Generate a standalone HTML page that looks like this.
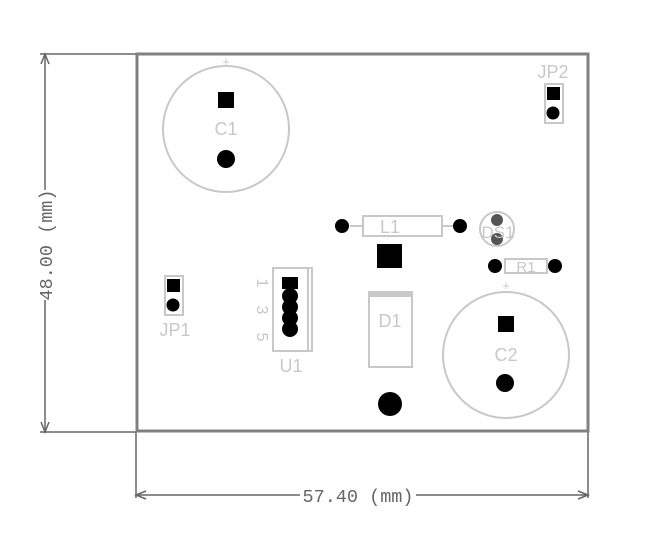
<!DOCTYPE html>
<html><head><style>html,body{margin:0;padding:0;background:#fff}svg{display:block}</style></head>
<body>
<svg width="656" height="552" viewBox="0 0 656 552" xmlns="http://www.w3.org/2000/svg" font-family="Liberation Sans, sans-serif">
<rect width="656" height="552" fill="#fff"/>
<g stroke="#666" stroke-width="1.5" fill="none">
<line x1="40" y1="54" x2="136" y2="54"/>
<line x1="40" y1="432" x2="136" y2="432"/>
<line x1="45" y1="54" x2="45" y2="190"/>
<line x1="45" y1="300" x2="45" y2="432"/>
<polyline points="41,64 45,54 49,64"/>
<polyline points="41,422 45,432 49,422"/>
<line x1="136" y1="432" x2="136" y2="498"/>
<line x1="588" y1="432" x2="588" y2="498"/>
<line x1="136" y1="495" x2="300" y2="495"/>
<line x1="416" y1="495" x2="588" y2="495"/>
<polyline points="146,491 136,495 146,499"/>
<polyline points="578,491 588,495 578,499"/>
</g>
<text x="358" y="502" font-family="Liberation Mono, monospace" font-size="18.5" fill="#666" text-anchor="middle">57.40 (mm)</text>
<text transform="translate(52,245) rotate(-90)" font-family="Liberation Mono, monospace" font-size="18.5" fill="#666" text-anchor="middle">48.00 (mm)</text>
<rect x="137" y="54" width="451" height="377" fill="none" stroke="#808080" stroke-width="3"/>
<g stroke="#c8c8c8" stroke-width="2" fill="none">
<circle cx="226" cy="129" r="63"/>
<circle cx="506" cy="355" r="63"/>
<rect x="545" y="84" width="18" height="39"/>
<rect x="165" y="276" width="18" height="39"/>
<rect x="273" y="268" width="39" height="83"/>
<line x1="308" y1="268" x2="308" y2="351"/>
<rect x="363" y="216" width="79" height="20"/>
<line x1="350" y1="226" x2="363" y2="226"/>
<line x1="442" y1="226" x2="453" y2="226"/>
<rect x="369" y="292" width="43" height="75"/>
<circle cx="497" cy="229" r="17"/>
<rect x="505" y="259" width="42" height="14"/>
</g>
<rect x="369" y="291" width="43" height="6" fill="#c8c8c8"/>
<g fill="#c8c8c8" font-size="18">
<text x="226" y="135" text-anchor="middle">C1</text>
<text x="506" y="361" text-anchor="middle">C2</text>
<text x="553" y="78" text-anchor="middle">JP2</text>
<text x="175" y="336" text-anchor="middle">JP1</text>
<text x="291" y="372" text-anchor="middle">U1</text>
<text x="390" y="327" text-anchor="middle">D1</text>
<text x="390" y="233" text-anchor="middle">L1</text>
<text x="526" y="272" text-anchor="middle" font-size="15">R1</text>
<text x="226" y="66" text-anchor="middle" font-size="13">+</text>
<text x="506" y="290" text-anchor="middle" font-size="13">+</text>
<text transform="translate(257,283) rotate(90)" text-anchor="middle" font-size="16">1</text>
<text transform="translate(257,310) rotate(90)" text-anchor="middle" font-size="16">3</text>
<text transform="translate(257,337) rotate(90)" text-anchor="middle" font-size="16">5</text>
</g>
<g fill="#000">
<rect x="218" y="92" width="16" height="16"/>
<circle cx="226" cy="159" r="9"/>
<rect x="498" y="316" width="16" height="16"/>
<circle cx="505" cy="383" r="9"/>
<rect x="547" y="87" width="13" height="13"/>
<circle cx="553" cy="113" r="6.5"/>
<rect x="167" y="279" width="13" height="13"/>
<circle cx="173" cy="305" r="6.5"/>
<rect x="282" y="277" width="16" height="12"/>
<circle cx="290" cy="296" r="8"/>
<circle cx="290" cy="307" r="8"/>
<circle cx="290" cy="318" r="8"/>
<circle cx="290" cy="329" r="8"/>
<circle cx="342" cy="226" r="7"/>
<circle cx="460" cy="226" r="7"/>
<rect x="377" y="244" width="25" height="24"/>
<circle cx="390" cy="404" r="12"/>
<circle cx="495" cy="266" r="7"/>
<circle cx="555" cy="266" r="7"/>
</g>
<g fill="#555">
<circle cx="497" cy="220" r="6"/>
<circle cx="497" cy="239" r="6"/>
</g>
<text x="498" y="238" text-anchor="middle" font-size="17" fill="#c8c8c8">DS1</text>
</svg>
</body></html>
